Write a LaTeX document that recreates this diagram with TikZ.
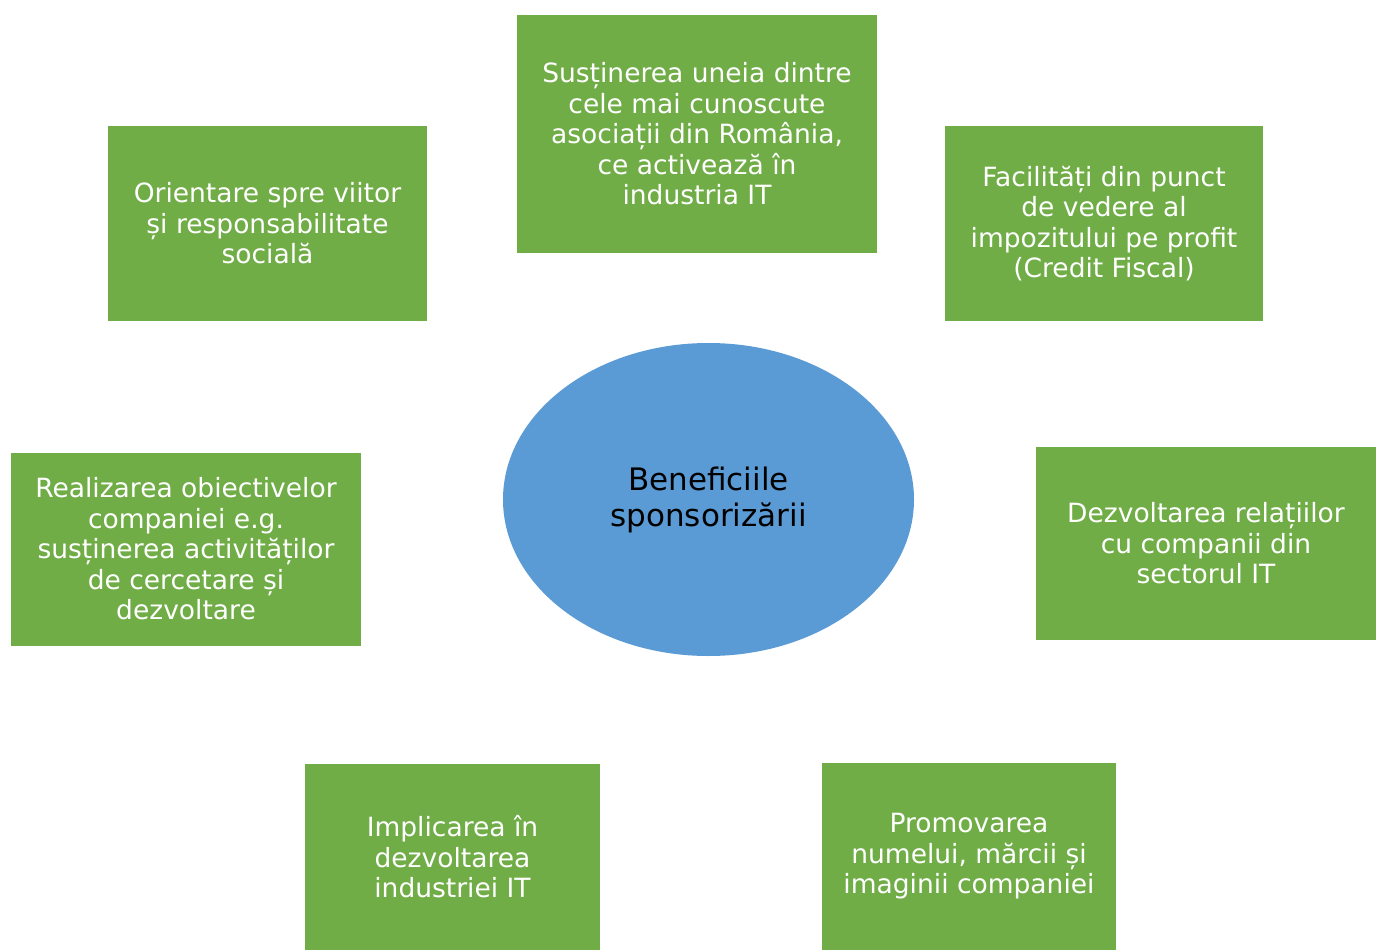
\documentclass[tikz,border=0pt]{standalone}
\usepackage{fontspec}
\setmainfont{DejaVu Sans}
\usetikzlibrary{shapes.geometric}
\definecolor{boxgreen}{HTML}{70AD47}
\definecolor{ellblue}{HTML}{5B9BD5}
\begin{document}
\begin{tikzpicture}[x=1pt,y=-1pt,
  gbox/.style={fill=boxgreen,draw=none,inner sep=0pt,text=white,align=center,
    font=\fontsize{26.5}{30.5}\selectfont},
  ell/.style={ellipse,fill=ellblue,draw=none,inner sep=0pt,text=black,align=center,
    font=\fontsize{31}{36}\selectfont}]
\useasboundingbox (0,0) rectangle (1376,950);
\fill[white] (0,0) rectangle (1376,950);
\node[ell,minimum width=411,minimum height=313] (center) at (708.5,499.5)
  {Beneficiile\\sponsorizării};
\node[gbox,minimum width=360,minimum height=238] (top) at (697,134)
  {Susținerea uneia dintre\\cele mai cunoscute\\asociații din România,\\ce activează în\\industria IT};
\node[gbox,minimum width=319,minimum height=195] (lt) at (267.5,223.5)
  {Orientare spre viitor\\și responsabilitate\\socială};
\node[gbox,minimum width=318,minimum height=195] (rt) at (1104,223.5)
  {Facilități din punct\\de vedere al\\impozitului pe profit\\(Credit Fiscal)};
\node[gbox,minimum width=350,minimum height=193] (lm) at (186,549)
  {Realizarea obiectivelor\\companiei e.g.\\susținerea activităților\\de cercetare și\\dezvoltare};
\node[gbox,minimum width=340,minimum height=193] (rm) at (1206,543.5)
  {Dezvoltarea relațiilor\\cu companii din\\sectorul IT};
\node[gbox,minimum width=295,minimum height=186] (lb) at (452.5,857)
  {Implicarea în\\dezvoltarea\\industriei IT};
\node[gbox,minimum width=294,minimum height=187] (rb) at (969,856.5)
  {Promovarea\\numelui, mărcii și\\imaginii companiei};
\end{tikzpicture}
\end{document}
